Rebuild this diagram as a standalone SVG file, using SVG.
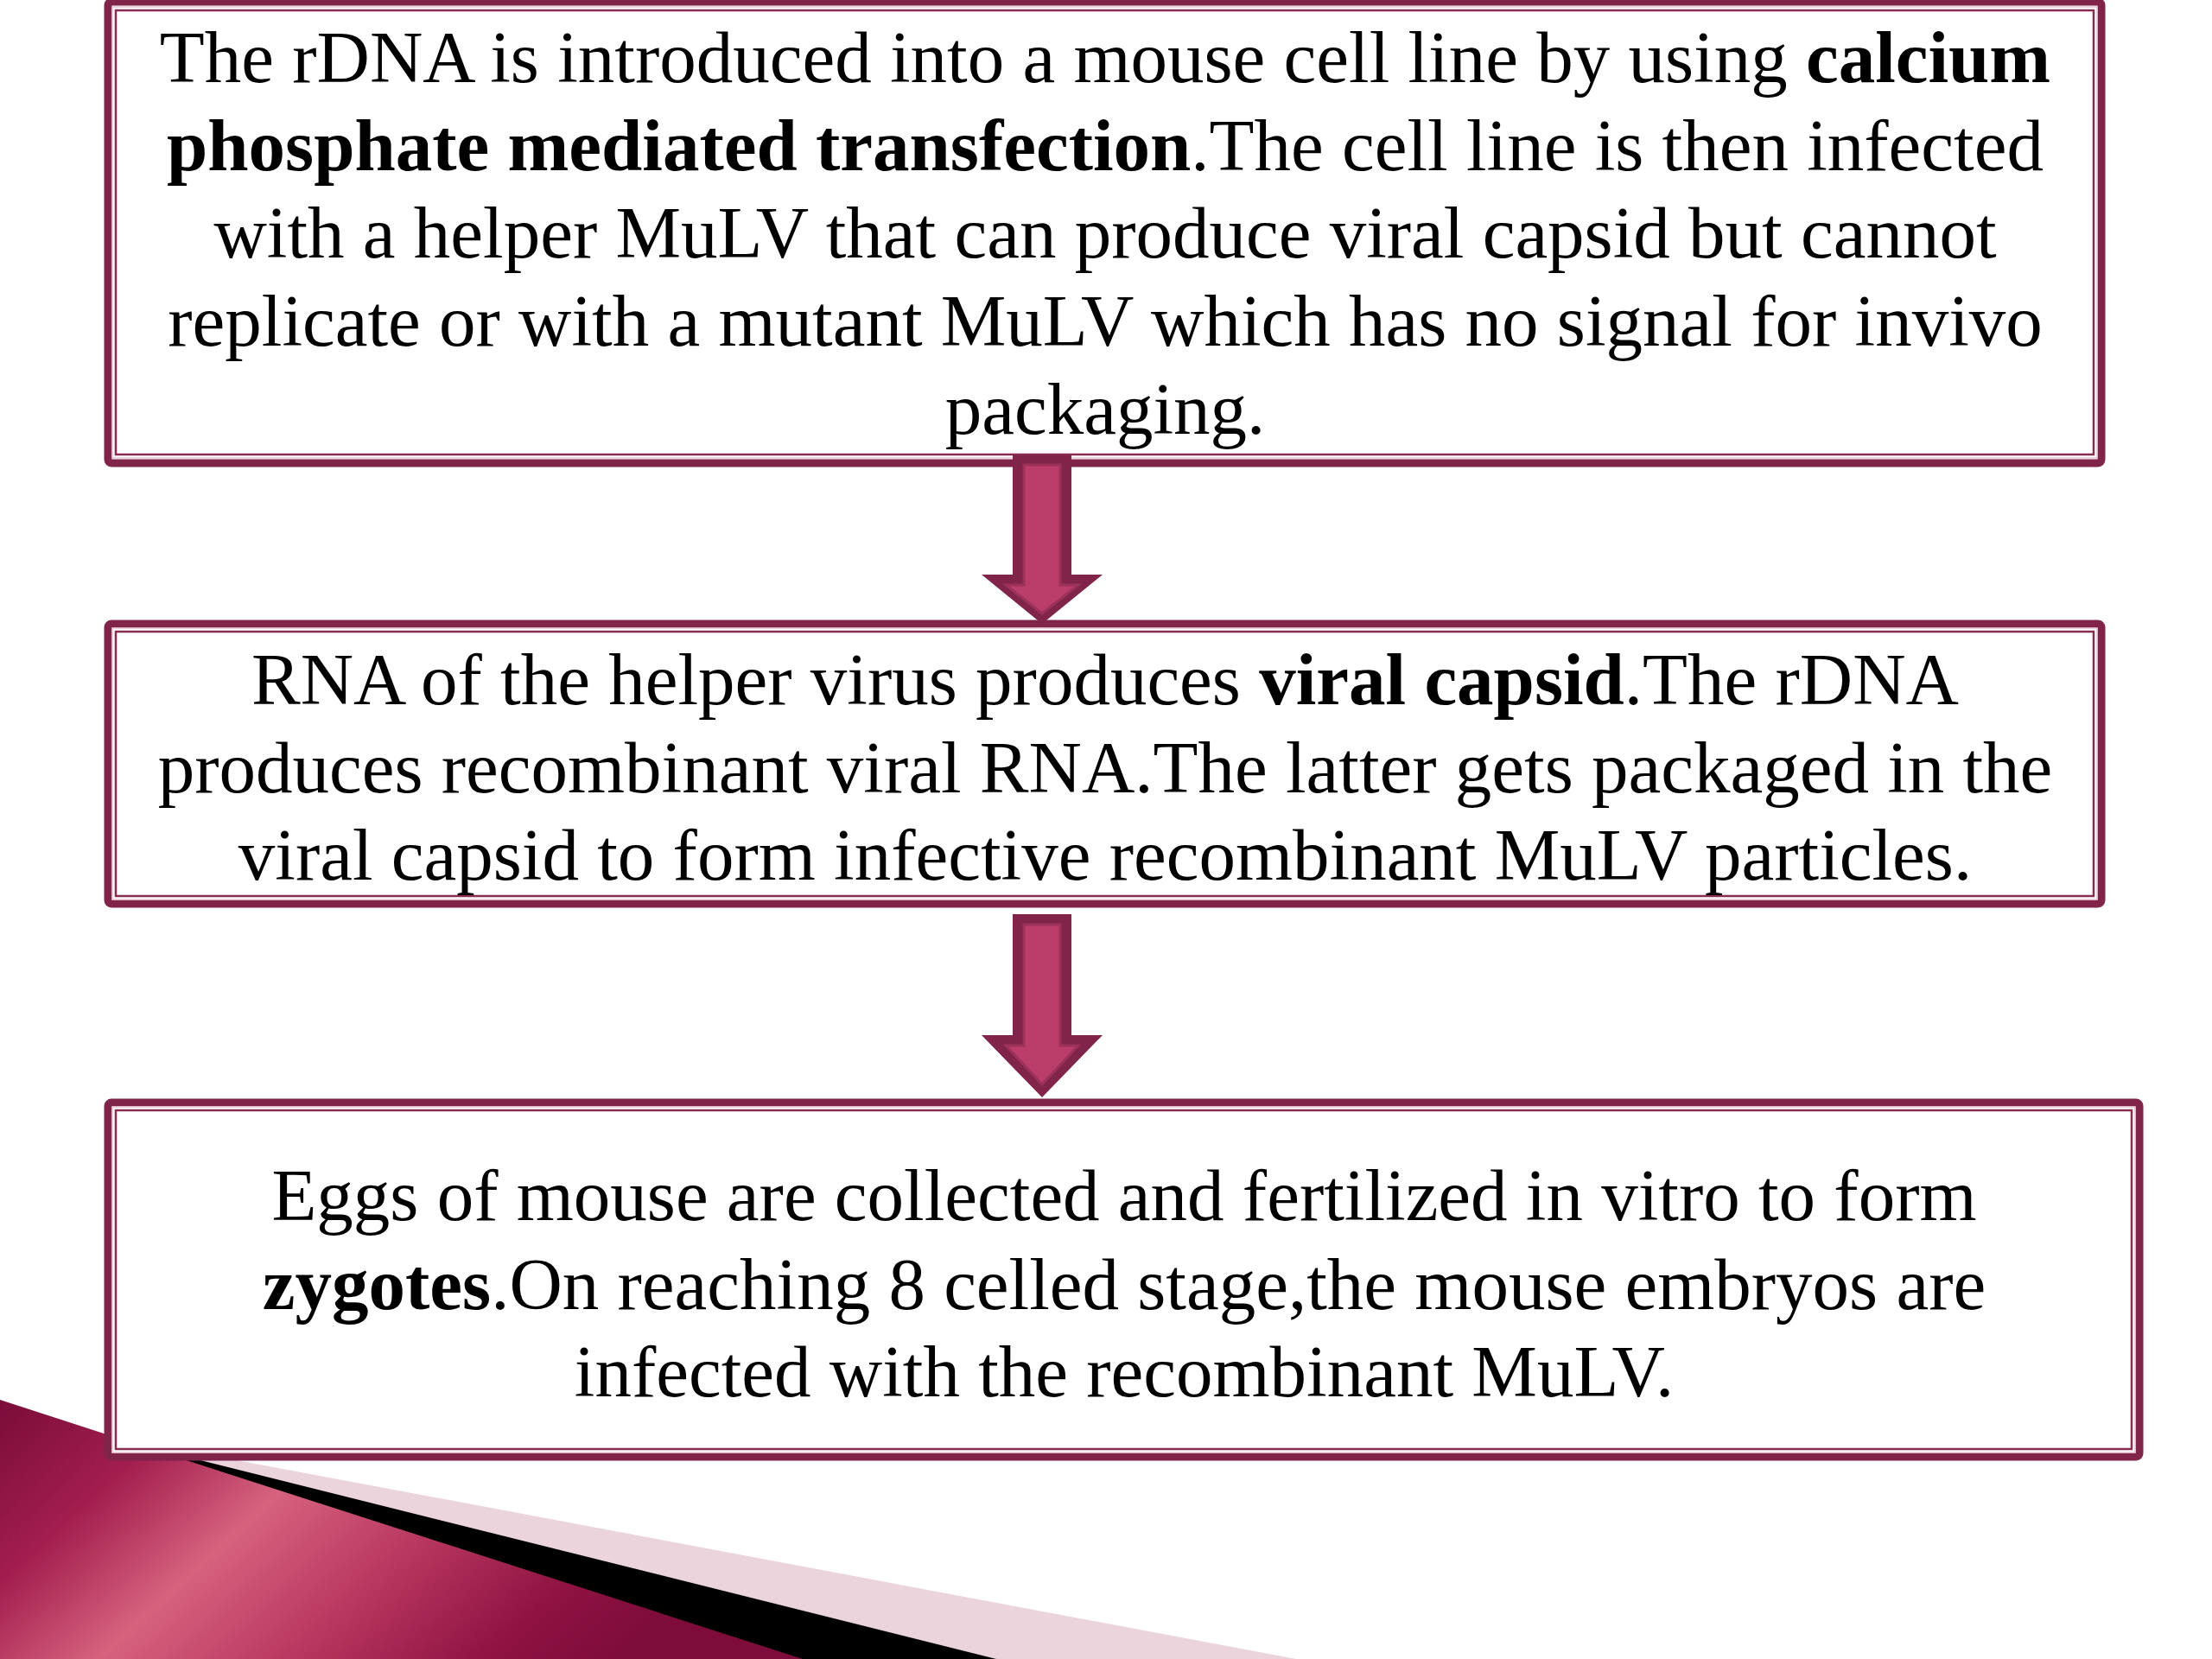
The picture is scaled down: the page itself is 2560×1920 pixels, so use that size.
<svg xmlns="http://www.w3.org/2000/svg" width="2560" height="1920" viewBox="0 0 2560 1920">
<defs>
<linearGradient id="mag" x1="0" y1="0" x2="1" y2="0.35">
<stop offset="0" stop-color="#7a0c38"/>
<stop offset="0.22" stop-color="#a21e4e"/>
<stop offset="0.42" stop-color="#d6627e"/>
<stop offset="0.62" stop-color="#bb3a62"/>
<stop offset="0.85" stop-color="#8f1242"/>
<stop offset="1" stop-color="#7d0c3a"/>
</linearGradient>
<style>
.outer{fill:#ffffff;stroke:#80244a;stroke-width:9}
.inner{fill:none;stroke:#8a2c52;stroke-width:2.5}
.gap{fill:none;stroke:#e9c3d0;stroke-width:1.5}
.t{font-family:"Liberation Serif","Times New Roman",serif;font-size:85px;fill:#000;text-anchor:middle}
.b{font-weight:bold}
.aout{fill:#80244a}
.ain{fill:#bb3d69;stroke:#9c3159;stroke-width:3}
</style>
</defs>
<rect width="2560" height="1920" fill="#ffffff"/>
<g id="decoration">
<polygon points="1500,1920 200,1676 0,1920" fill="#ecd4dc"/>
<polygon points="1153,1920 200,1682 0,1920" fill="#000000"/>
<polygon points="0,1620 200,1685 929,1920 0,1920" fill="url(#mag)"/>
</g>
<g id="node1">
<rect class="outer" x="125" y="2" width="2307" height="534" rx="4"/>
<rect class="gap" x="130" y="8" width="2297" height="522"/>
<rect class="inner" x="134" y="12" width="2289" height="514"/>
<text class="t" x="1279" y="95">The rDNA is introduced into a mouse cell line by using <tspan class="b">calcium</tspan></text>
<text class="t" x="1279" y="197"><tspan class="b">phosphate mediated transfection</tspan>.The cell line is then infected</text>
<text class="t" x="1279" y="298">with a helper MuLV that can produce viral capsid but cannot</text>
<text class="t" x="1279" y="400">replicate or with a mutant MuLV which has no signal for invivo</text>
<text class="t" x="1279" y="502">packaging.</text>
</g>
<g id="node2">
<rect class="outer" x="125" y="722" width="2307" height="324" rx="4"/>
<rect class="gap" x="130" y="727" width="2297" height="314"/>
<rect class="inner" x="134" y="731" width="2289" height="306"/>
<text class="t" x="1279" y="815">RNA of the helper virus produces <tspan class="b">viral capsid</tspan>.The rDNA</text>
<text class="t" x="1279" y="917">produces recombinant viral RNA.The latter gets packaged in the</text>
<text class="t" x="1279" y="1018">viral capsid to form infective recombinant MuLV particles.</text>
</g>
<g id="node3">
<rect class="outer" x="125" y="1276" width="2351" height="410" rx="4"/>
<rect class="gap" x="130" y="1281" width="2341" height="400"/>
<rect class="inner" x="134" y="1285" width="2333" height="392"/>
<text class="t" x="1301" y="1412">Eggs of mouse are collected and fertilized in vitro to form</text>
<text class="t" x="1301" y="1515"><tspan class="b">zygotes</tspan>.On reaching 8 celled stage,the mouse embryos are</text>
<text class="t" x="1301" y="1616">infected with the recombinant MuLV.</text>
</g>
<g id="connectors">
<g id="arrow1">
<polygon class="aout" points="1172,527 1240,527 1240,665 1276,665 1206,722 1136,665 1172,665"/>
<polygon class="ain" points="1185,538 1227,538 1227,677 1248,677 1206,710 1164,677 1185,677"/>
</g>
<g id="arrow2">
<polygon class="aout" points="1172,1058 1240,1058 1240,1198 1276,1198 1206,1270 1136,1198 1172,1198"/>
<polygon class="ain" points="1185,1070 1227,1070 1227,1210 1248,1210 1206,1255 1164,1210 1185,1210"/>
</g>
</g>
</svg>
